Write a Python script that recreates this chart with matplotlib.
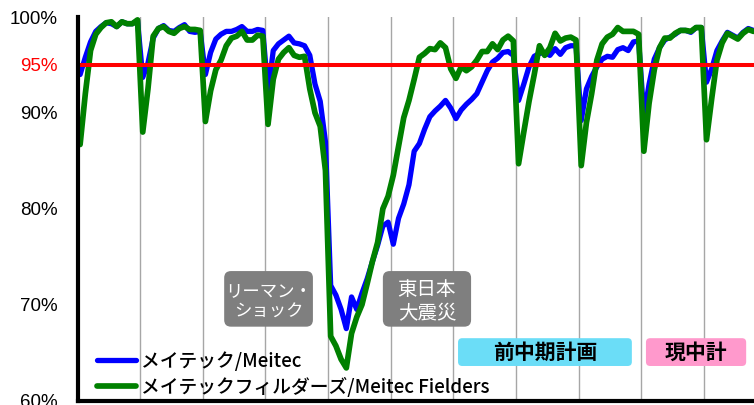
"""
Meitec / Meitec Fielders monthly utilisation rate, with 95% target line.
"""

import matplotlib.pyplot as plt
import numpy as np
from matplotlib.patches import FancyBboxPatch

JP = ["Noto Sans CJK JP", "DejaVu Sans"]

# ---------------------------------------------------------------------------
# Data (monthly utilisation, %)
# ---------------------------------------------------------------------------

meitec = [
    94.0, 95.8, 97.4, 98.5, 99.0, 99.4, 99.3, 99.0, 99.5, 99.3, 99.3, 99.6,
    93.7, 95.2, 97.8, 98.8, 99.1, 98.6, 98.5, 98.9, 99.2, 98.5, 98.4, 98.5,
    94.0, 96.3, 97.7, 98.2, 98.5, 98.5, 98.7, 99.0, 98.5, 98.5, 98.7, 98.6,
    92.1, 96.5, 97.2, 97.6, 98.0, 97.3, 97.2, 97.0, 96.0, 93.0, 91.2, 87.0,
    72.0, 71.0, 69.5, 67.5, 70.8, 69.5, 71.2, 72.7, 74.5, 76.2, 78.2, 78.6,
    76.3, 79.0, 80.5, 82.5, 86.0, 86.8, 88.3, 89.6, 90.2, 90.7, 91.3, 90.5,
    89.4, 90.3, 90.9, 91.4, 92.0, 93.2, 94.4, 95.3, 95.7, 96.3, 96.4, 96.0,
    91.3, 93.0, 94.8, 95.9, 96.2, 96.3, 96.0, 96.7, 96.1, 96.8, 97.0, 97.0,
    89.2, 92.5, 93.8, 94.8, 95.6, 95.9, 95.8, 96.6, 96.8, 96.5, 97.4, 97.5,
    89.7, 93.0, 95.6, 96.8, 97.6, 97.9, 98.2, 98.6, 98.6, 98.4, 98.9, 98.9,
    93.2, 94.6, 96.5, 97.5, 98.4, 98.1, 97.8, 98.4, 98.8, 98.6,
]

fielders = [
    86.7, 92.0, 96.5, 98.2, 98.9, 99.4, 99.5, 99.0, 99.5, 99.3, 99.3, 99.7,
    88.0, 92.5, 98.0, 98.8, 99.0, 98.5, 98.3, 98.8, 99.0, 98.7, 98.7, 98.6,
    89.1, 92.3, 94.5, 95.5, 97.0, 97.8, 98.0, 98.5, 97.6, 97.6, 98.1, 98.0,
    88.8, 93.5, 95.6, 96.3, 96.8, 96.0, 95.8, 95.9, 92.5, 90.0, 88.6, 84.0,
    66.7, 65.7, 64.3, 63.4, 67.0, 68.7, 70.0, 72.2, 74.5, 76.5, 80.0, 81.3,
    83.5, 86.5, 89.5, 91.3, 93.5, 95.8, 96.2, 96.7, 96.6, 97.3, 96.8, 94.6,
    93.6, 94.8, 94.4, 94.8, 95.5, 96.4, 96.4, 97.2, 96.6, 97.6, 98.0, 97.5,
    84.7, 88.0, 91.2, 94.0, 97.0, 96.0, 96.8, 98.3, 97.5, 97.8, 97.9, 97.6,
    84.5, 89.0, 92.0, 95.5, 97.2, 97.9, 98.2, 98.9, 98.5, 98.5, 98.5, 98.2,
    86.0, 91.0, 94.5, 96.8, 97.8, 97.8, 98.3, 98.6, 98.6, 98.5, 98.9, 98.9,
    87.2, 91.5, 95.5, 97.3, 98.3, 98.0, 97.7, 98.3, 98.7, 98.5,
]

y_ticks = [60, 70, 80, 90, 95, 100]
y_labels = ["60%", "70%", "80%", "90%", "95%", "100%"]
target = 95
series_labels = ["メイテック/Meitec", "メイテックフィルダーズ/Meitec Fielders"]
event_labels = ["リーマン・\nショック", "東日本\n大震災"]
plan_labels = ["前中期計画", "現中計"]

# ---------------------------------------------------------------------------
# Figure
# ---------------------------------------------------------------------------

fig = plt.figure(figsize=(7.54, 4.05), dpi=100)
ax = fig.add_axes([77.5 / 754, 4.5 / 405, 676.5 / 754, 383.5 / 405])

months = np.arange(len(meitec)) + 0.5
ax.set_xlim(0, 129.6)
ax.set_ylim(60, 100)

# fiscal-year separators
for x in range(12, len(meitec), 12):
    ax.axvline(x, color="#A6A6A6", lw=1.0, zorder=1)

ax.plot(months, meitec, color="#0000FF", lw=3.8, zorder=3,
        solid_joinstyle="round", solid_capstyle="round", label=series_labels[0])
ax.plot(months, fielders, color="#008000", lw=4.1, zorder=4,
        solid_joinstyle="round", solid_capstyle="round", label=series_labels[1])
ax.axhline(target, color="#FF0000", lw=2.9, zorder=5)

for side in ["top", "right"]:
    ax.spines[side].set_visible(False)
for side in ["left", "bottom"]:
    ax.spines[side].set_linewidth(3.0)
    ax.spines[side].set_color("black")
    ax.spines[side].set_zorder(6)

ax.set_xticks([])
ax.set_yticks(y_ticks, y_labels)
ax.tick_params(axis="y", length=0, pad=14.5, labelsize=13.5)
for lbl in ax.get_yticklabels():
    lbl.set_family("Liberation Sans")
    if lbl.get_text() == "95%":
        lbl.set_color("#FF0000")

ax.legend(loc="lower left", bbox_to_anchor=(97 / 754, 8 / 405),
          bbox_transform=fig.transFigure, frameon=False,
          prop={"family": JP, "size": 13.5, "weight": "medium"},
          handlelength=2.1, handletextpad=0.25, labelspacing=0.32,
          borderpad=0, borderaxespad=0)

# ---------------------------------------------------------------------------
# Annotation boxes
# ---------------------------------------------------------------------------

aspect = (676.5 / 129.6) / (383.5 / 40)


def label_box(x0, y0, w, h, text, fc, color, size, weight, r, dy=0.0):
    box = FancyBboxPatch((x0, y0), w, h,
                         boxstyle=f"round,pad=0,rounding_size={r}",
                         mutation_aspect=aspect, fc=fc, ec="none", zorder=7)
    ax.add_patch(box)
    ax.text(x0 + w / 2, y0 + h / 2 + dy, text, ha="center", va="center",
            color=color, fontsize=size, fontweight=weight, family=JP,
            linespacing=1.22, zorder=8)


label_box(28.1, 67.7, 17.0, 5.8, event_labels[0], "#7F7F7F", "white", 12.5, "normal", 1.3, -0.25)
label_box(58.5, 67.7, 16.9, 5.8, event_labels[1], "#7F7F7F", "white", 14, "normal", 1.3, -0.25)
label_box(72.9, 63.6, 33.3, 2.9, plan_labels[0], "#6BDDF7", "black", 15, "bold", 0.8)
label_box(108.9, 63.6, 19.2, 2.9, plan_labels[1], "#FF99CC", "black", 15, "bold", 0.8)

fig.savefig("out.png", dpi=100)
